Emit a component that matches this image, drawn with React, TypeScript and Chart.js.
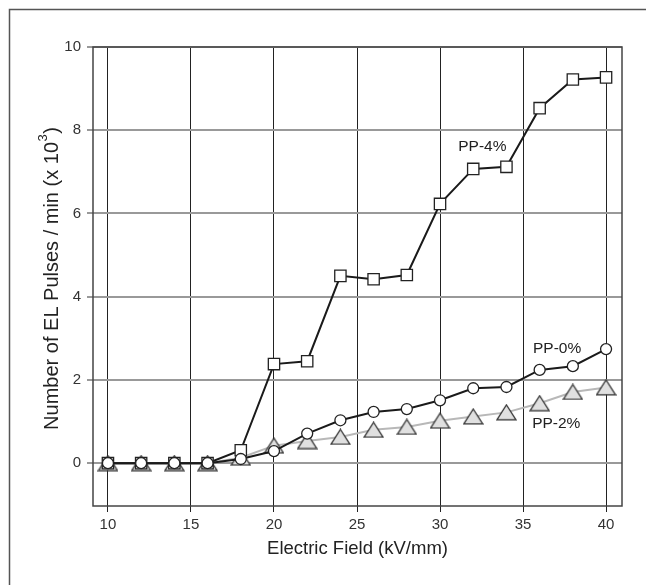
import { useEffect, useRef } from "react";
import { Chart, registerables } from "chart.js";

Chart.register(...registerables);

// ---- data ----
const fieldKV = [10, 12, 14, 16, 18, 20, 22, 24, 26, 28, 30, 32, 34, 36, 38, 40];
const pp0 = [0, 0, 0, 0, 0.1, 0.29, 0.71, 1.03, 1.23, 1.3, 1.51, 1.8, 1.83, 2.24, 2.33, 2.74];
const pp2 = [0, 0, 0, 0, 0.13, 0.42, 0.53, 0.63, 0.8, 0.87, 1.02, 1.12, 1.22, 1.44, 1.71, 1.82];
const pp4 = [0, 0, 0, 0, 0.31, 2.38, 2.45, 4.5, 4.42, 4.52, 6.23, 7.07, 7.12, 8.53, 9.22, 9.27];
const xTicks = [10, 15, 20, 25, 30, 35, 40];
const yTicks = [0, 2, 4, 6, 8, 10];
const seriesNames = ["PP-0%", "PP-4%", "PP-2%"];
// label anchors in data units (x, y)
const labelX = [37.05, 32.55, 37.0];
const labelY = [2.74, 7.6, 0.94];

const FONT = "'Liberation Sans', Arial, Helvetica, sans-serif";

function makeTriangle(): HTMLCanvasElement {
  const c = document.createElement("canvas");
  c.width = 21;
  c.height = 17;
  const g = c.getContext("2d")!;
  g.beginPath();
  g.moveTo(10.5, 1);
  g.lineTo(20, 15.8);
  g.lineTo(1, 15.8);
  g.closePath();
  g.fillStyle = "#e0e0e0";
  g.fill();
  g.strokeStyle = "#333";
  g.lineWidth = 1.3;
  g.lineJoin = "miter";
  g.stroke();
  return c;
}

const decor = {
  id: "decor",
  beforeDraw(chart: any) {
    const ctx = chart.ctx;
    ctx.save();
    ctx.strokeStyle = "#555";
    ctx.lineWidth = 1.5;
    ctx.beginPath();
    ctx.moveTo(9.5, chart.height);
    ctx.lineTo(9.5, 9.5);
    ctx.lineTo(chart.width, 9.5);
    ctx.stroke();
    ctx.restore();
  },
  beforeDatasetsDraw(chart: any) {
    const { ctx, chartArea: a } = chart;
    ctx.save();
    ctx.strokeStyle = "#444";
    ctx.lineWidth = 1.5;
    ctx.strokeRect(a.left, a.top, a.right - a.left, a.bottom - a.top);
    ctx.restore();
  },
  afterDraw(chart: any) {
    const { ctx, chartArea: a, scales } = chart;
    ctx.save();
    ctx.fillStyle = "#222";
    // series labels
    ctx.font = `15.5px ${FONT}`;
    ctx.textAlign = "center";
    ctx.textBaseline = "middle";
    seriesNames.forEach((n, i) => {
      ctx.fillText(n, scales.x.getPixelForValue(labelX[i]), scales.y.getPixelForValue(labelY[i]));
    });
    // x title
    ctx.font = `18.5px ${FONT}`;
    ctx.fillText("Electric Field (kV/mm)", (a.left + a.right) / 2, a.bottom + 43);
    // y title with superscript
    const main = "Number of EL Pulses / min (x 10";
    const sup = "3";
    const end = ")";
    const big = `20px ${FONT}`;
    const small = `13px ${FONT}`;
    ctx.font = big;
    const w1 = ctx.measureText(main).width;
    const w3 = ctx.measureText(end).width;
    ctx.font = small;
    const w2 = ctx.measureText(sup).width;
    const total = w1 + w2 + w3;
    ctx.translate(52, (a.top + a.bottom) / 2 + 2.5);
    ctx.rotate(-Math.PI / 2);
    ctx.textAlign = "left";
    ctx.textBaseline = "middle";
    let x = -total / 2;
    ctx.font = big;
    ctx.fillText(main, x, 0);
    x += w1;
    ctx.font = small;
    ctx.fillText(sup, x + 0.5, -9);
    x += w2 + 1;
    ctx.font = big;
    ctx.fillText(end, x, 0);
    ctx.restore();
  },
};

export default function App() {
  const ref = useRef<HTMLCanvasElement>(null);
  useEffect(() => {
    if (!ref.current) return;
    const mk = (arr: number[]) => fieldKV.map((x, i) => ({ x, y: arr[i] }));
    const tri = makeTriangle();
    const chart = new Chart(ref.current, {
      type: "line",
      data: {
        datasets: [
          {
            label: seriesNames[0],
            data: mk(pp0),
            borderColor: "#1a1a1a",
            borderWidth: 2,
            pointStyle: "circle",
            pointRadius: 5.5,
            pointBackgroundColor: "#ffffff",
            pointBorderColor: "#222",
            pointBorderWidth: 1.3,
            tension: 0,
          },
          {
            label: seriesNames[1],
            data: mk(pp4),
            borderColor: "#1a1a1a",
            borderWidth: 2,
            pointStyle: "rect",
            pointRadius: 8,
            pointBackgroundColor: "#ffffff",
            pointBorderColor: "#222",
            pointBorderWidth: 1.3,
            tension: 0,
          },
          {
            label: seriesNames[2],
            data: mk(pp2),
            borderColor: "#b8b8b8",
            borderWidth: 2,
            pointStyle: tri as any,
            pointRadius: 9,
            pointBackgroundColor: "#e0e0e0",
            pointBorderColor: "#333",
            pointBorderWidth: 1.3,
            tension: 0,
          },
        ],
      },
      options: {
        animation: false,
        responsive: false,
        layout: { padding: { top: 47, right: 24, left: 0, bottom: 0 } },
        plugins: { legend: { display: false }, tooltip: { enabled: false } },
        scales: {
          x: {
            type: "linear",
            min: 9.1,
            max: 40.96,
            afterBuildTicks: (s: any) => {
              s.ticks = xTicks.map((v) => ({ value: v }));
            },
            afterFit: (s: any) => {
              s.height = 79;
            },
            grid: { color: "#222", lineWidth: 1, tickLength: 6, drawTicks: true },
            border: { display: false },
            ticks: { color: "#333", font: { family: FONT, size: 15 }, padding: 4, maxRotation: 0 },
          },
          y: {
            type: "linear",
            min: -1.03,
            max: 10,
            afterBuildTicks: (s: any) => {
              s.ticks = yTicks.map((v) => ({ value: v }));
            },
            afterFit: (s: any) => {
              s.width = 93;
            },
            grid: { color: "#999", lineWidth: 2, tickLength: 6, drawTicks: true },
            border: { display: false },
            ticks: { color: "#333", font: { family: FONT, size: 15 }, padding: 6 },
          },
        },
      },
      plugins: [decor],
    });
    return () => chart.destroy();
  }, []);
  return (
    <div style={{ position: "absolute", left: 0, top: 0, width: 646, height: 585, background: "#fff" }}>
      <canvas ref={ref} width={646} height={585} style={{ display: "block" }} />
    </div>
  );
}
